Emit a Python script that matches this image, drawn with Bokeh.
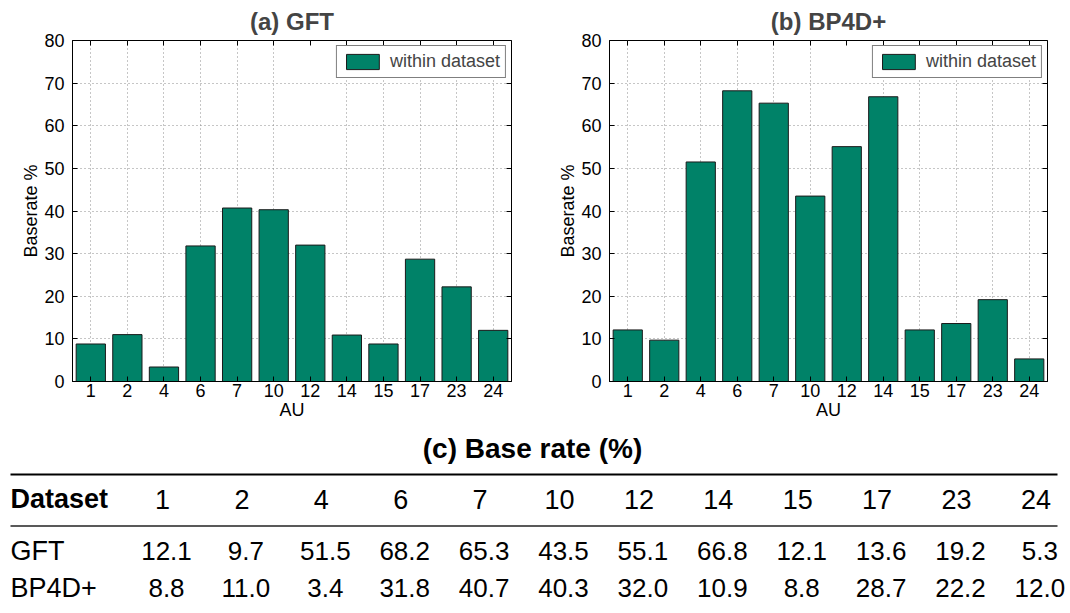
from bokeh.plotting import figure
from bokeh.layouts import column, row
from bokeh.models import (Range1d, FactorRange, CategoricalAxis, LinearAxis,
                          SingleIntervalTicker, ColumnDataSource)
from bokeh.core.properties import value
from bokeh.embed import file_html
from bokeh.resources import INLINE

# ---------------- data ----------------
au_labels = ["1", "2", "4", "6", "7", "10", "12", "14", "15", "17", "23", "24"]
gft_chart = [8.8, 11.0, 3.4, 31.8, 40.7, 40.3, 32.0, 10.9, 8.8, 28.7, 22.2, 12.0]
bp4d_chart = [12.1, 9.7, 51.5, 68.2, 65.3, 43.5, 55.1, 66.8, 12.1, 13.6, 19.2, 5.3]

table_row_names = ["GFT", "BP4D+"]
table_gft_row = [12.1, 9.7, 51.5, 68.2, 65.3, 43.5, 55.1, 66.8, 12.1, 13.6, 19.2, 5.3]
table_bp4d_row = [8.8, 11.0, 3.4, 31.8, 40.7, 40.3, 32.0, 10.9, 8.8, 28.7, 22.2, 12.0]

legend_text = "within dataset"
BAR_COLOR = "#008268"
FONT = "Liberation Sans"


def bar_chart(title, vals, width, left, right):
    p = figure(width=width, height=425, x_range=FactorRange(*au_labels),
               y_range=Range1d(0, 80), output_backend="svg",
               toolbar_location=None, min_border_left=left,
               min_border_right=right, min_border_top=39, min_border_bottom=44)
    p.title.text = title
    p.title.align = "center"
    p.title.text_font = FONT
    p.title.text_font_size = "24px"
    p.title.text_font_style = "bold"
    p.title.standoff = 11
    src = ColumnDataSource(dict(au=au_labels, v=vals))
    p.vbar(x="au", top="v", width=0.8, source=src, fill_color=BAR_COLOR,
           line_color="#1a1a1a", line_width=1, legend_label=legend_text)
    p.outline_line_color = "black"
    p.outline_line_width = 1
    p.background_fill_color = "white"
    p.border_fill_color = "white"

    p.yaxis.ticker = SingleIntervalTicker(interval=10)
    for ax in (p.xaxis[0], p.yaxis[0]):
        ax.major_tick_in = 5
        ax.major_tick_out = 0
        ax.minor_tick_line_color = None
        ax.axis_line_color = "black"
        ax.major_tick_line_color = "black"
        ax.major_label_text_font = FONT
        ax.major_label_text_font_size = "18px"
        ax.major_label_text_color = "black"
        ax.axis_label_text_font = FONT
        ax.axis_label_text_font_size = "18px"
        ax.axis_label_text_font_style = "normal"
        ax.axis_label_text_color = "black"
    p.xaxis.axis_label = "AU"
    p.yaxis.axis_label = "Baserate %"
    p.xaxis.major_label_standoff = 2
    p.xaxis.axis_label_standoff = 0
    p.yaxis.major_label_standoff = 4
    p.yaxis.axis_label_standoff = 0

    top = CategoricalAxis(major_tick_in=5, major_tick_out=0,
                          major_label_text_font_size="1px",
                          major_label_text_color=None,
                          axis_line_color=None, major_label_standoff=0)
    p.add_layout(top, "above")
    rgt = LinearAxis(ticker=SingleIntervalTicker(interval=10), major_tick_in=5,
                     major_tick_out=0, minor_tick_line_color=None,
                     major_label_text_font_size="1px",
                     major_label_text_color=None, axis_line_color=None,
                     major_label_standoff=0)
    p.add_layout(rgt, "right")

    p.xgrid.grid_line_color = "#8c8c8c"
    p.xgrid.grid_line_dash = "1 3"
    p.ygrid.grid_line_color = "#8c8c8c"
    p.ygrid.grid_line_dash = "1 3"

    lg = p.legend[0]
    lg.location = "top_right"
    lg.margin = 5
    lg.padding = 5
    lg.spacing = 0
    lg.label_standoff = 7
    lg.glyph_width = 41
    lg.glyph_height = 19
    lg.label_height = 19
    lg.label_text_font = FONT
    lg.label_text_font_size = "18px"
    lg.border_line_color = "black"
    lg.border_line_width = 1
    lg.background_fill_alpha = 1
    return p


p1 = bar_chart("(a) GFT", gft_chart, 540, 72, 29)
p2 = bar_chart("(b) BP4D+", bp4d_chart, 530, 69, 23)

# ---------------- table ----------------
p3 = figure(width=1070, height=188, x_range=Range1d(0, 1070),
            y_range=Range1d(613, 425), output_backend="svg",
            toolbar_location=None, min_border=0)
p3.axis.visible = False
p3.grid.visible = False
p3.outline_line_color = None

p3.text(x=[532], y=[448], text=["(c) Base rate (%)"], text_align="center",
        text_baseline="middle", text_font=value(FONT),
        text_font_size="28px", text_font_style="bold", text_color="black")
p3.segment(x0=[10], x1=[1057], y0=[474], y1=[474], line_color="black", line_width=2)
p3.segment(x0=[10], x1=[1057], y0=[525.5], y1=[525.5], line_color="#222222",
           line_width=1.3)

col_x = [162 + i * 79.4 for i in range(len(au_labels))]
p3.text(x=[10], y=[498.5], text=["Dataset"], text_align="left",
        text_baseline="middle", text_font=value(FONT), text_font_size="27px",
        text_font_style="bold", text_color="black")
p3.text(x=col_x, y=[498.5] * len(au_labels), text=au_labels, text_align="center",
        text_baseline="middle", text_font=value(FONT), text_font_size="27px",
        text_color="black")
for name, vals, yc in zip(table_row_names, [table_gft_row, table_bp4d_row],
                          [550.5, 587.5]):
    p3.text(x=[10], y=[yc], text=[name], text_align="left",
            text_baseline="middle", text_font=value(FONT),
            text_font_size="27px", text_color="black")
    p3.text(x=[c + 4 for c in col_x], y=[yc] * len(vals),
            text=["%.1f" % v for v in vals], text_align="center",
            text_baseline="middle", text_font=value(FONT),
            text_font_size="26px", text_color="black")

layout = column(row(p1, p2), p3)
open("out.html", "w").write(file_html(layout, INLINE))
